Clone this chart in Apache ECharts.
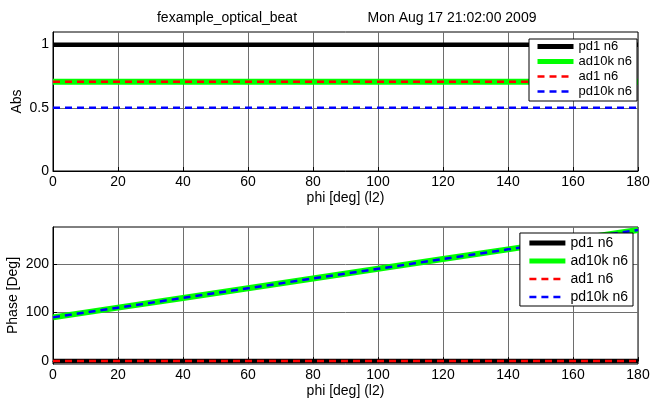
<!DOCTYPE html>
<html><head><meta charset="utf-8">
<script src="https://cdn.jsdelivr.net/npm/echarts@6/dist/echarts.min.js"></script>
<style>html,body{margin:0;padding:0;background:#fff}#c{width:654px;height:406px}</style>
</head><body><div id="c"></div>
<script>
const seriesNames = ['pd1 n6', 'ad10k n6', 'ad1 n6', 'pd10k n6'];
const phi = [0, 20, 40, 60, 80, 100, 120, 140, 160, 180];
const absPd1   = [1, 1, 1, 1, 1, 1, 1, 1, 1, 1];
const absAd10k = [0.707, 0.707, 0.707, 0.707, 0.707, 0.707, 0.707, 0.707, 0.707, 0.707];
const absAd1   = [0.707, 0.707, 0.707, 0.707, 0.707, 0.707, 0.707, 0.707, 0.707, 0.707];
const absPd10k = [0.5, 0.5, 0.5, 0.5, 0.5, 0.5, 0.5, 0.5, 0.5, 0.5];
const phasePd1   = [0, 0, 0, 0, 0, 0, 0, 0, 0, 0];
const phaseAd10k = [90, 110, 130, 150, 170, 190, 210, 230, 250, 270];
const phaseAd1   = [0, 0, 0, 0, 0, 0, 0, 0, 0, 0];
const phasePd10k = [90, 110, 130, 150, 170, 190, 210, 230, 250, 270];
const absTicks = [0, 0.5, 1];
const phaseTicks = [0, 100, 200];
const titleLeft = 'fexample_optical_beat';
const titleRight = 'Mon Aug 17 21:02:00 2009';
const xName = 'phi [deg] (l2)';
const yNameTop = 'Abs';
const yNameBottom = 'Phase [Deg]';

const FONT = '"Liberation Sans", Arial, sans-serif';
const styles = [
  { color: '#000000', width: 4.5, type: 'solid' },
  { color: '#00ff00', width: 6, type: 'solid' },
  { color: '#ff0000', width: 2.5, type: [7, 5] },
  { color: '#0000ff', width: 2.5, type: [7, 5] }
];
const legendWidths = [5, 5, 2.5, 2.5];
const pairs = arr => phi.map((x, i) => [x, arr[i]]);
const topData = [absPd1, absAd10k, absAd1, absPd10k];
const botData = [phasePd1, phaseAd10k, phaseAd1, phasePd10k];

function xAxis(gridIndex) {
  return {
    type: 'value', gridIndex, min: 0, max: 180, interval: 20,
    name: xName, nameLocation: 'middle', nameGap: 20, nameMoveOverlap: false,
    nameTextStyle: { fontFamily: FONT, fontSize: 14, color: '#000' },
    axisLine: { show: true, lineStyle: { color: '#000', width: 1 } },
    axisTick: { show: true, inside: true, length: 4, lineStyle: { color: '#000' } },
    axisLabel: { fontFamily: FONT, fontSize: 14, color: '#000', margin: 4 },
    splitLine: { show: true, lineStyle: { color: '#6e6e6e', width: 1 } }
  };
}
function yAxis(gridIndex, min, max, ticks, name, gap) {
  return {
    type: 'value', gridIndex, min, max,
    name, nameLocation: 'middle', nameGap: gap, nameMoveOverlap: false,
    nameTextStyle: { fontFamily: FONT, fontSize: 14, color: '#000' },
    axisLine: { show: true, lineStyle: { color: '#000', width: 1 } },
    axisTick: { show: true, inside: true, length: 4, lineStyle: { color: '#000' }, customValues: ticks },
    axisLabel: { fontFamily: FONT, fontSize: 14, color: '#000', margin: 4, customValues: ticks },
    splitLine: { show: true, lineStyle: { color: '#6e6e6e', width: 1 } }
  };
}
const series = [];
[topData, botData].forEach((set, g) => {
  set.forEach((arr, i) => {
    series.push({
      name: seriesNames[i], type: 'line', xAxisIndex: g, yAxisIndex: g,
      data: pairs(arr), symbol: 'none', showSymbol: false, animation: false,
      lineStyle: Object.assign({}, styles[i]), itemStyle: { color: styles[i].color },
      z: 2
    });
  });
});

const legendItems = seriesNames.map((n, i) => ({
  name: n,
  lineStyle: { width: legendWidths[i], color: styles[i].color, type: styles[i].type }
}));
const legendCommon = {
  data: legendItems, orient: 'vertical', itemWidth: 36, backgroundColor: '#fff',
  borderColor: '#000', borderWidth: 1, borderRadius: 0, selectedMode: false, z: 20,
  itemStyle: { opacity: 0 }
};
const chart = echarts.init(document.getElementById('c'), null, { renderer: 'canvas' });
chart.setOption({
  animation: false,
  backgroundColor: '#fff',
  title: [
    { text: titleLeft, left: 227, top: 11, padding: 0, textAlign: 'center',
      textStyle: { fontFamily: FONT, fontSize: 14, fontWeight: 'normal', color: '#000' } },
    { text: titleRight, left: 452, top: 11, padding: 0, textAlign: 'center',
      textStyle: { fontFamily: FONT, fontSize: 14, fontWeight: 'normal', color: '#000' } }
  ],
  grid: [
    { left: 53, right: 16, top: 32, height: 139, show: true, borderColor: '#000', borderWidth: 1,
      backgroundColor: 'transparent', containLabel: false, outerBoundsMode: 'none' },
    { left: 53, right: 16, top: 227, height: 137, show: true, borderColor: '#000', borderWidth: 1,
      backgroundColor: 'transparent', containLabel: false, outerBoundsMode: 'none' }
  ],
  xAxis: [xAxis(0), xAxis(1)],
  yAxis: [
    yAxis(0, 0, 1.1, absTicks, yNameTop, 29),
    yAxis(1, -6, 276, phaseTicks, yNameBottom, 33)
  ],
  legend: [
    Object.assign({}, legendCommon, { right: 17, top: 39, itemHeight: 13, itemGap: 2, padding: [1, 5, 3, 6],
      textStyle: { fontFamily: FONT, fontSize: 13, color: '#000' } }),
    Object.assign({}, legendCommon, { right: 21, top: 233, itemHeight: 14, itemGap: 4, padding: [3, 5, 2, 7],
      textStyle: { fontFamily: FONT, fontSize: 14, color: '#000' } })
  ],
  series
});
</script>
</body></html>
